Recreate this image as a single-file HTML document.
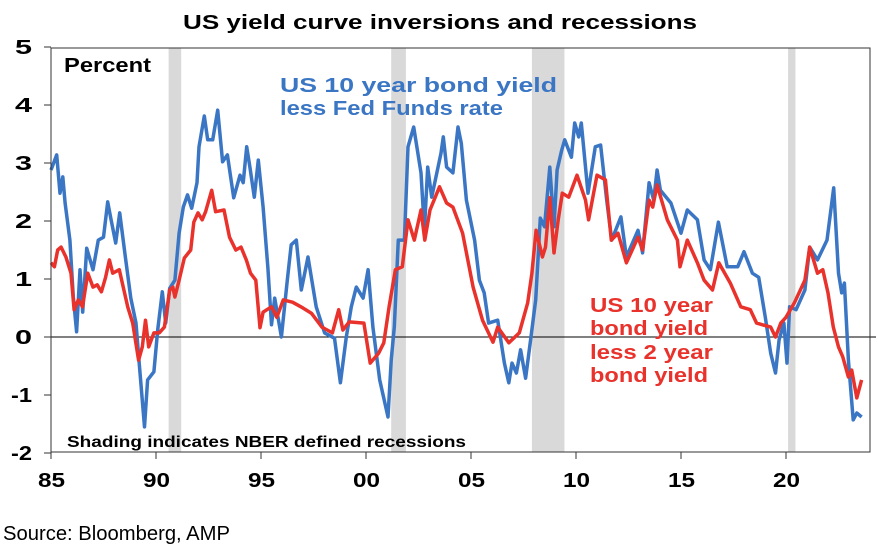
<!DOCTYPE html>
<html><head><meta charset="utf-8"><style>
body{margin:0;background:#fff;}
svg{display:block;font-family:"Liberation Sans",Arial,sans-serif;}
</style></head><body>
<svg id="chart" width="878" height="552" viewBox="0 0 878 552">
<text x="183" y="29" font-size="20" font-weight="bold" textLength="514" lengthAdjust="spacingAndGlyphs">US yield curve inversions and recessions</text>
<g id="rec"></g>
<line x1="51" y1="337" x2="876" y2="337" stroke="#000" stroke-width="1"/>
<g id="series"></g>
<rect x="51" y="48" width="819" height="404" fill="none" stroke="#333" stroke-width="1"/>
<g id="yaxis"></g>
<g id="xaxis"></g>
<text x="64" y="72" font-size="20" font-weight="bold" textLength="87" lengthAdjust="spacingAndGlyphs">Percent</text>
<g font-size="20" font-weight="bold" fill="#3a76c4">
<text x="280" y="92" textLength="277" lengthAdjust="spacingAndGlyphs">US 10 year bond yield</text>
<text x="280" y="115" textLength="223" lengthAdjust="spacingAndGlyphs">less Fed Funds rate</text>
</g>
<g font-size="20" font-weight="bold" fill="#e8322b">
<text x="590" y="312" textLength="123" lengthAdjust="spacingAndGlyphs">US 10 year</text>
<text x="590" y="335" textLength="118" lengthAdjust="spacingAndGlyphs">bond yield</text>
<text x="590" y="359" textLength="123" lengthAdjust="spacingAndGlyphs">less 2 year</text>
<text x="590" y="382" textLength="118" lengthAdjust="spacingAndGlyphs">bond yield</text>
</g>
<text x="67" y="447" font-size="16" font-weight="bold" textLength="399" lengthAdjust="spacingAndGlyphs">Shading indicates NBER defined recessions</text>
<text x="3" y="540" font-size="20" textLength="227" lengthAdjust="spacingAndGlyphs">Source: Bloomberg, AMP</text>
</svg>
<script>
const yTicks=[5,4,3,2,1,0,-1,-2];
const yTickLabels=["5","4","3","2","1","0","-1","-2"];
const xTicks=[1985,1990,1995,2000,2005,2010,2015,2020];
const xTickLabels=["85","90","95","00","05","10","15","20"];
const recStart=[1990.6,2001.2,2007.9,2020.1];
const recEnd=[1991.2,2001.9,2009.45,2020.45];
const blueX=[1985.0,1985.27,1985.43,1985.56,1985.67,1985.9,1986.06,1986.22,1986.38,1986.51,1986.7,1987.0,1987.25,1987.5,1987.7,1987.86,1988.08,1988.27,1988.55,1988.8,1989.05,1989.2,1989.45,1989.6,1989.9,1990.08,1990.3,1990.46,1990.65,1990.9,1991.1,1991.3,1991.5,1991.7,1991.95,1992.05,1992.3,1992.46,1992.7,1992.94,1993.17,1993.4,1993.7,1994.0,1994.15,1994.32,1994.47,1994.68,1994.87,1995.1,1995.33,1995.5,1995.65,1995.97,1996.25,1996.44,1996.68,1996.92,1997.24,1997.63,1998.03,1998.5,1998.78,1999.06,1999.3,1999.54,1999.86,2000.1,2000.33,2000.65,2001.05,2001.2,2001.35,2001.54,2001.83,2002.0,2002.27,2002.62,2002.78,2002.94,2003.13,2003.57,2003.68,2003.84,2004.14,2004.38,2004.54,2004.78,2005.17,2005.4,2005.63,2005.84,2006.27,2006.59,2006.8,2006.95,2007.16,2007.36,2007.6,2007.84,2008.08,2008.3,2008.5,2008.75,2008.95,2009.1,2009.32,2009.46,2009.78,2009.94,2010.13,2010.25,2010.57,2010.92,2011.17,2011.46,2011.7,2012.14,2012.4,2012.95,2013.17,2013.48,2013.7,2013.86,2014.02,2014.52,2015.0,2015.3,2015.78,2016.1,2016.4,2016.78,2017.2,2017.7,2018.0,2018.4,2018.7,2019.02,2019.27,2019.5,2019.67,2019.9,2020.05,2020.17,2020.48,2020.9,2021.13,2021.5,2021.95,2022.27,2022.5,2022.65,2022.78,2022.97,2023.2,2023.37,2023.6];
const blueY=[2.88,3.14,2.48,2.76,2.31,1.67,0.69,0.09,1.16,0.43,1.53,1.16,1.67,1.72,2.33,2.02,1.62,2.14,1.36,0.67,0.24,-0.45,-1.55,-0.74,-0.6,0.12,0.78,0.24,0.84,0.98,1.79,2.24,2.45,2.22,2.66,3.28,3.81,3.4,3.4,3.91,3.02,3.14,2.4,2.79,2.66,3.28,2.93,2.41,3.05,2.24,1.19,0.21,0.67,0.0,0.98,1.59,1.67,0.81,1.38,0.52,0.07,-0.02,-0.79,0.0,0.52,0.86,0.67,1.16,0.17,-0.74,-1.38,-0.40,0.17,1.67,1.67,3.28,3.62,2.83,1.84,2.93,2.41,3.17,3.45,2.93,2.83,3.62,3.34,2.36,1.67,0.98,0.76,0.24,0.29,-0.45,-0.79,-0.45,-0.62,-0.22,-0.71,-0.05,0.64,2.05,1.9,2.93,1.9,2.88,3.22,3.4,3.1,3.69,3.45,3.69,2.48,3.28,3.31,2.36,1.67,2.07,1.38,1.84,1.45,2.66,2.36,2.88,2.53,2.31,1.79,2.19,2.02,1.33,1.16,1.98,1.21,1.21,1.47,1.10,1.03,0.33,-0.28,-0.62,-0.05,0.24,-0.45,0.52,0.47,0.81,1.55,1.33,1.67,2.57,1.1,0.76,0.93,-0.4,-1.43,-1.31,-1.38];
const redX=[1985.0,1985.16,1985.32,1985.48,1985.71,1985.95,1986.1,1986.3,1986.5,1986.75,1987.0,1987.2,1987.4,1987.6,1987.78,1987.94,1988.25,1988.65,1988.89,1989.17,1989.35,1989.5,1989.65,1989.9,1990.15,1990.4,1990.65,1990.8,1990.9,1991.1,1991.35,1991.65,1991.8,1992.0,1992.2,1992.36,1992.65,1992.84,1993.24,1993.5,1993.8,1994.05,1994.3,1994.5,1994.75,1994.95,1995.1,1995.5,1995.75,1996.06,1996.5,1996.9,1997.4,1997.9,1998.4,1998.7,1998.9,1999.2,1999.9,2000.2,2000.6,2000.85,2001.1,2001.4,2001.73,2002.0,2002.3,2002.62,2002.8,2003.05,2003.5,2003.84,2004.14,2004.6,2005.1,2005.55,2006.05,2006.27,2006.8,2007.3,2007.7,2007.9,2008.1,2008.4,2008.55,2008.75,2008.95,2009.15,2009.35,2009.65,2010.05,2010.45,2010.6,2011.0,2011.4,2011.68,2012.0,2012.4,2012.95,2013.17,2013.48,2013.65,2013.86,2014.35,2014.83,2014.95,2015.3,2015.78,2016.1,2016.5,2016.8,2017.35,2017.85,2018.3,2018.6,2019.27,2019.5,2019.75,2020.0,2020.4,2020.9,2021.13,2021.5,2021.75,2022.0,2022.25,2022.5,2022.7,2022.97,2023.13,2023.37,2023.6];
const redY=[1.28,1.21,1.5,1.55,1.38,1.10,0.47,0.64,0.52,1.1,0.86,0.9,0.78,1.03,1.33,1.10,1.16,0.52,0.24,-0.4,-0.17,0.29,-0.17,0.07,0.07,0.17,0.81,0.86,0.69,0.98,1.36,1.5,1.98,2.14,2.02,2.16,2.53,2.16,2.19,1.72,1.5,1.55,1.33,1.10,0.98,0.16,0.43,0.52,0.34,0.64,0.6,0.52,0.41,0.17,0.07,0.47,0.12,0.26,0.24,-0.45,-0.28,-0.1,0.52,1.16,1.21,2.02,1.67,2.19,1.67,2.19,2.59,2.31,2.24,1.79,0.86,0.29,-0.09,0.17,-0.1,0.07,0.59,1.1,1.84,1.38,1.55,2.40,1.45,2.02,2.48,2.41,2.79,2.36,2.02,2.79,2.71,1.67,1.79,1.28,1.72,1.5,2.36,2.24,2.62,2.02,1.67,1.21,1.67,1.28,0.98,0.81,1.28,0.93,0.52,0.47,0.24,0.17,0.0,0.24,0.34,0.59,0.98,1.55,1.10,1.16,0.76,0.17,-0.17,-0.34,-0.69,-0.57,-1.05,-0.74];

const NS="http://www.w3.org/2000/svg";
const X0=51,PXY=21.0,Y0=337,PXV=58;
function xs(t){return X0+(t-1985)*PXY;}
function ys(v){return Y0-v*PXV;}
function mk(tag,attrs,parent){const e=document.createElementNS(NS,tag);for(const k in attrs)e.setAttribute(k,attrs[k]);parent.appendChild(e);return e;}
const rec=document.getElementById('rec');
recStart.forEach((s,i)=>{const r=mk('rect',{x:xs(s),y:48,width:xs(recEnd[i])-xs(s),height:404,fill:'#d9d9d9'},rec);

});
const ya=document.getElementById('yaxis');
yTicks.forEach((v,i)=>{const l=mk('line',{x1:44,x2:51,y1:ys(v),y2:ys(v),stroke:'#333'},ya);


const w=yTickLabels[i].length>1?21:17;
const t=mk('text',{x:32-w,y:ys(v)+7,'font-size':20,'font-weight':'bold',textLength:w,lengthAdjust:'spacingAndGlyphs'},ya);


t.textContent=yTickLabels[i];});
const xa=document.getElementById('xaxis');
xTicks.forEach((v,i)=>{const l=mk('line',{x1:xs(v),x2:xs(v),y1:452,y2:459,stroke:'#333'},xa);


const t=mk('text',{x:xs(v)-13,y:487,'font-size':20,'font-weight':'bold',textLength:27,lengthAdjust:'spacingAndGlyphs'},xa);


t.textContent=xTickLabels[i];});
const sg=document.getElementById('series');
function line(xa_,ya_,col,name){const d=xa_.map((t,i)=>(i?'L':'M')+xs(t).toFixed(1)+' '+ys(ya_[i]).toFixed(1)).join(' ');
const p=mk('path',{d:d,fill:'none',stroke:col,'stroke-width':3.5,'stroke-linejoin':'round'},sg);

}
line(blueX,blueY,'#3a76c4','blue-line-10y-less-fed-funds');
line(redX,redY,'#e8322b','red-line-10y-less-2y');
</script>
</body></html>
